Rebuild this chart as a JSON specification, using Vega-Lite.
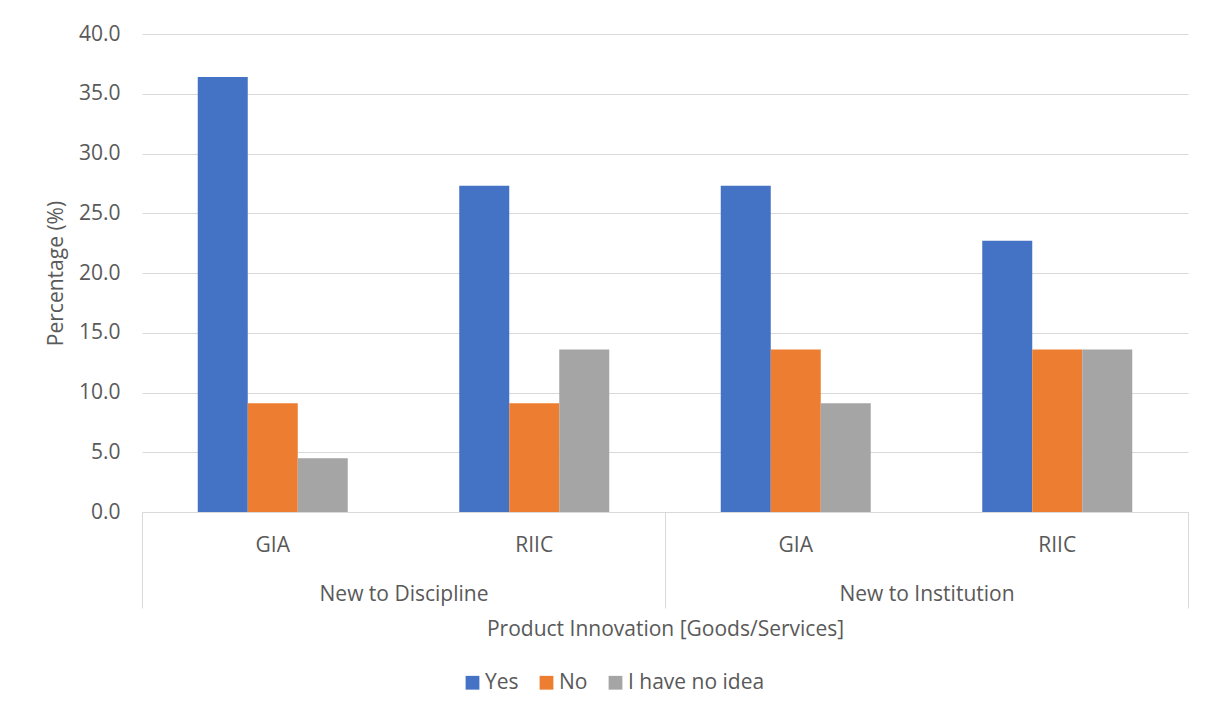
{
  "$schema": "https://vega.github.io/schema/vega-lite/v6.json",
  "width": 1046,
  "height": 478,
  "autosize": {"type": "none"},
  "padding": {"left": 142, "top": 34, "right": 26, "bottom": 205},
  "background": "white",
  "config": {
    "font": "Open Sans",
    "view": {"stroke": null},
    "axis": {"labelColor": "#595959", "titleColor": "#595959", "labelFontSize": 21, "titleFontSize": 21, "titleFontWeight": "normal", "labelFont": "Open Sans", "titleFont": "Open Sans"},
    "legend": {"labelColor": "#595959", "labelFontSize": 21, "labelFont": "Open Sans"}
  },
  "datasets": {
    "bars": [
      {"key": "New to Discipline|GIA", "series": "Yes", "value": 36.4},
      {"key": "New to Discipline|GIA", "series": "No", "value": 9.1},
      {"key": "New to Discipline|GIA", "series": "I have no idea", "value": 4.5},
      {"key": "New to Discipline|RIIC", "series": "Yes", "value": 27.3},
      {"key": "New to Discipline|RIIC", "series": "No", "value": 9.1},
      {"key": "New to Discipline|RIIC", "series": "I have no idea", "value": 13.6},
      {"key": "New to Institution|GIA", "series": "Yes", "value": 27.3},
      {"key": "New to Institution|GIA", "series": "No", "value": 13.6},
      {"key": "New to Institution|GIA", "series": "I have no idea", "value": 9.1},
      {"key": "New to Institution|RIIC", "series": "Yes", "value": 22.7},
      {"key": "New to Institution|RIIC", "series": "No", "value": 13.6},
      {"key": "New to Institution|RIIC", "series": "I have no idea", "value": 13.6}
    ],
    "groups": [
      {"group": "New to Discipline"},
      {"group": "New to Institution"}
    ]
  },
  "layer": [
    {
      "data": {"name": "bars"},
      "mark": {"type": "bar"},
      "encoding": {
        "x": {
          "field": "key", "type": "nominal", "sort": null,
          "scale": {"paddingInner": 0.4264, "paddingOuter": 0.2132},
          "axis": {
            "orient": "bottom",
            "title": null,
            "labelExpr": "split(datum.value, '|')[1]",
            "labelAngle": 0,
            "ticks": false,
            "domain": true,
            "domainColor": "#D9D9D9",
            "domainWidth": 1,
            "labelPadding": 22
          }
        },
        "xOffset": {
          "field": "series", "type": "nominal",
          "sort": ["Yes", "No", "I have no idea"],
          "scale": {"paddingInner": 0, "paddingOuter": 0}
        },
        "y": {
          "field": "value", "type": "quantitative",
          "scale": {"domain": [0, 40]},
          "axis": {
            "title": "Percentage (%)",
            "values": [0, 5, 10, 15, 20, 25, 30, 35, 40],
            "format": ".1f",
            "ticks": false,
            "domain": false,
            "gridColor": "#D9D9D9",
            "gridWidth": 1,
            "labelPadding": 22,
            "titlePadding": 12
          }
        },
        "color": {
          "field": "series", "type": "nominal",
          "sort": ["Yes", "No", "I have no idea"],
          "scale": {"domain": ["Yes", "No", "I have no idea"], "range": ["#4472C4", "#ED7D31", "#A5A5A5"]},
          "legend": {
            "title": null,
            "orient": "none",
            "legendX": 320,
            "legendY": 638,
            "direction": "horizontal",
            "symbolType": "square",
            "symbolSize": 190,
            "symbolStrokeWidth": 0,
            "columnPadding": 17,
            "labelOffset": 2
          }
        }
      }
    },
    {
      "data": {"name": "groups"},
      "mark": {"type": "bar", "opacity": 0},
      "encoding": {
        "x": {
          "field": "group", "type": "nominal", "sort": null,
          "scale": {"paddingInner": 0, "paddingOuter": 0},
          "axis": {
            "orient": "bottom",
            "title": "Product Innovation [Goods/Services]",
            "labelAngle": 0,
            "ticks": true,
            "tickBand": "extent",
            "tickSize": 96,
            "tickColor": "#D9D9D9",
            "tickWidth": 1,
            "domain": false,
            "labelPadding": -25,
            "titlePadding": 10
          }
        }
      }
    }
  ],
  "resolve": {"scale": {"x": "independent"}, "axis": {"x": "independent"}}
}
